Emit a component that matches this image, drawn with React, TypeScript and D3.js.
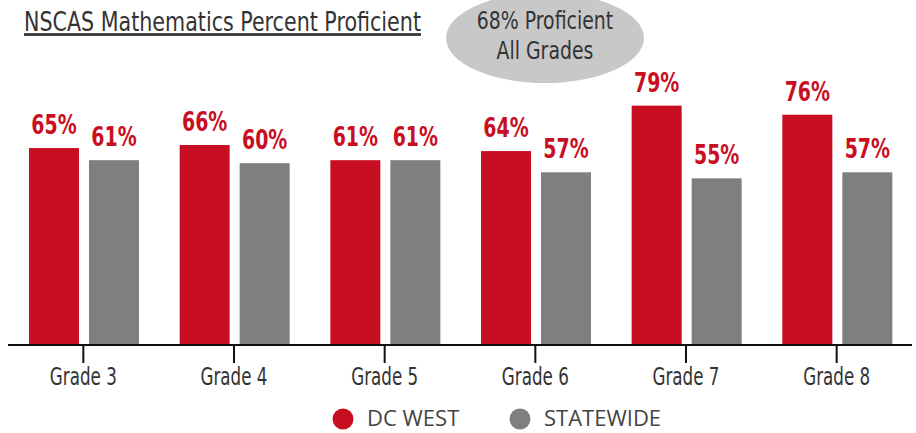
import React from 'react';
import * as d3 from 'd3';

const grades = ['Grade 3', 'Grade 4', 'Grade 5', 'Grade 6', 'Grade 7', 'Grade 8'];
const dcWest = [65, 66, 61, 64, 79, 76];
const statewide = [61, 60, 61, 57, 55, 57];
const seriesNames = ['DC WEST', 'STATEWIDE'];
const seriesColors = ['#c80f22', '#7f7f7f'];

const W = 916;
const H = 433;
const baseY = 345;
const condensed = "'DejaVu Sans Condensed', 'DejaVu Sans', sans-serif";

// squeezed text, stand-in for the narrow font of the original
const NarrowText = ({ x, y, sx, size, anchor = 'middle', bold = false, fill = '#333', underline = false, children }: any) => (
  <text
    transform={`translate(${x},${y}) scale(${sx},1)`}
    textAnchor={anchor}
    fontFamily={condensed}
    fontSize={size}
    fontWeight={bold ? 'bold' : 'normal'}
    fill={fill}
    textDecoration={underline ? 'underline' : undefined}
  >
    {children}
  </text>
);

const App = () => {
  const x = d3.scaleBand().domain(grades).range([8, 912]);
  const inner = d3
    .scaleBand()
    .domain(seriesNames)
    .range([21, 131])
    .paddingInner(10 / 60);
  const y = d3.scaleLinear().domain([0, 100]).range([baseY, 42]);

  const rows = grades.map((g, i) => ({ g, vals: [dcWest[i], statewide[i]] }));

  return (
    <div style={{ position: 'fixed', left: 0, top: 0, width: W, height: H, overflow: 'hidden' }}>
      <svg width={W} height={H} style={{ display: 'block' }}>
        <rect width={W} height={H} fill="#fff" />
        <NarrowText x={24} y={31} sx={0.85} size={27} anchor="start" underline>
          NSCAS Mathematics Percent Proficient
        </NarrowText>

        <ellipse cx={545} cy={38} rx={99} ry={45} fill="#c8c8c8" />
        <NarrowText x={545} y={29} sx={0.84} size={25}>
          68% Proficient
        </NarrowText>
        <NarrowText x={545} y={59} sx={0.84} size={25}>
          All Grades
        </NarrowText>

        {rows.map((r) => (
          <g key={r.g} transform={`translate(${x(r.g)},0)`}>
            {r.vals.map((v, j) => (
              <g key={j}>
                <rect
                  x={inner(seriesNames[j])}
                  y={y(v)}
                  width={inner.bandwidth()}
                  height={baseY - y(v)}
                  fill={seriesColors[j]}
                />
                <NarrowText
                  x={(inner(seriesNames[j]) as number) + inner.bandwidth() / 2}
                  y={y(v) - 14}
                  sx={0.78}
                  size={27}
                  bold
                  fill="#c80f22"
                >
                  {v}%
                </NarrowText>
              </g>
            ))}
            <line
              x1={x.bandwidth() / 2}
              x2={x.bandwidth() / 2}
              y1={baseY}
              y2={363}
              stroke="#111"
              strokeWidth={2}
            />
            <NarrowText x={x.bandwidth() / 2} y={385} sx={0.76} size={24.5}>
              {r.g}
            </NarrowText>
          </g>
        ))}
        <line x1={8} x2={912} y1={baseY} y2={baseY} stroke="#111" strokeWidth={2} />

        {seriesNames.map((s, i) => {
          const lx = [343, 520][i];
          return (
            <g key={s}>
              <circle cx={lx} cy={419} r={10.5} fill={seriesColors[i]} />
              <text
                x={lx + 24}
                y={426}
                fontFamily="'Open Sans', sans-serif"
                fontSize={22}
                fill="#444"
              >
                {s}
              </text>
            </g>
          );
        })}
      </svg>
    </div>
  );
};

export default App;
